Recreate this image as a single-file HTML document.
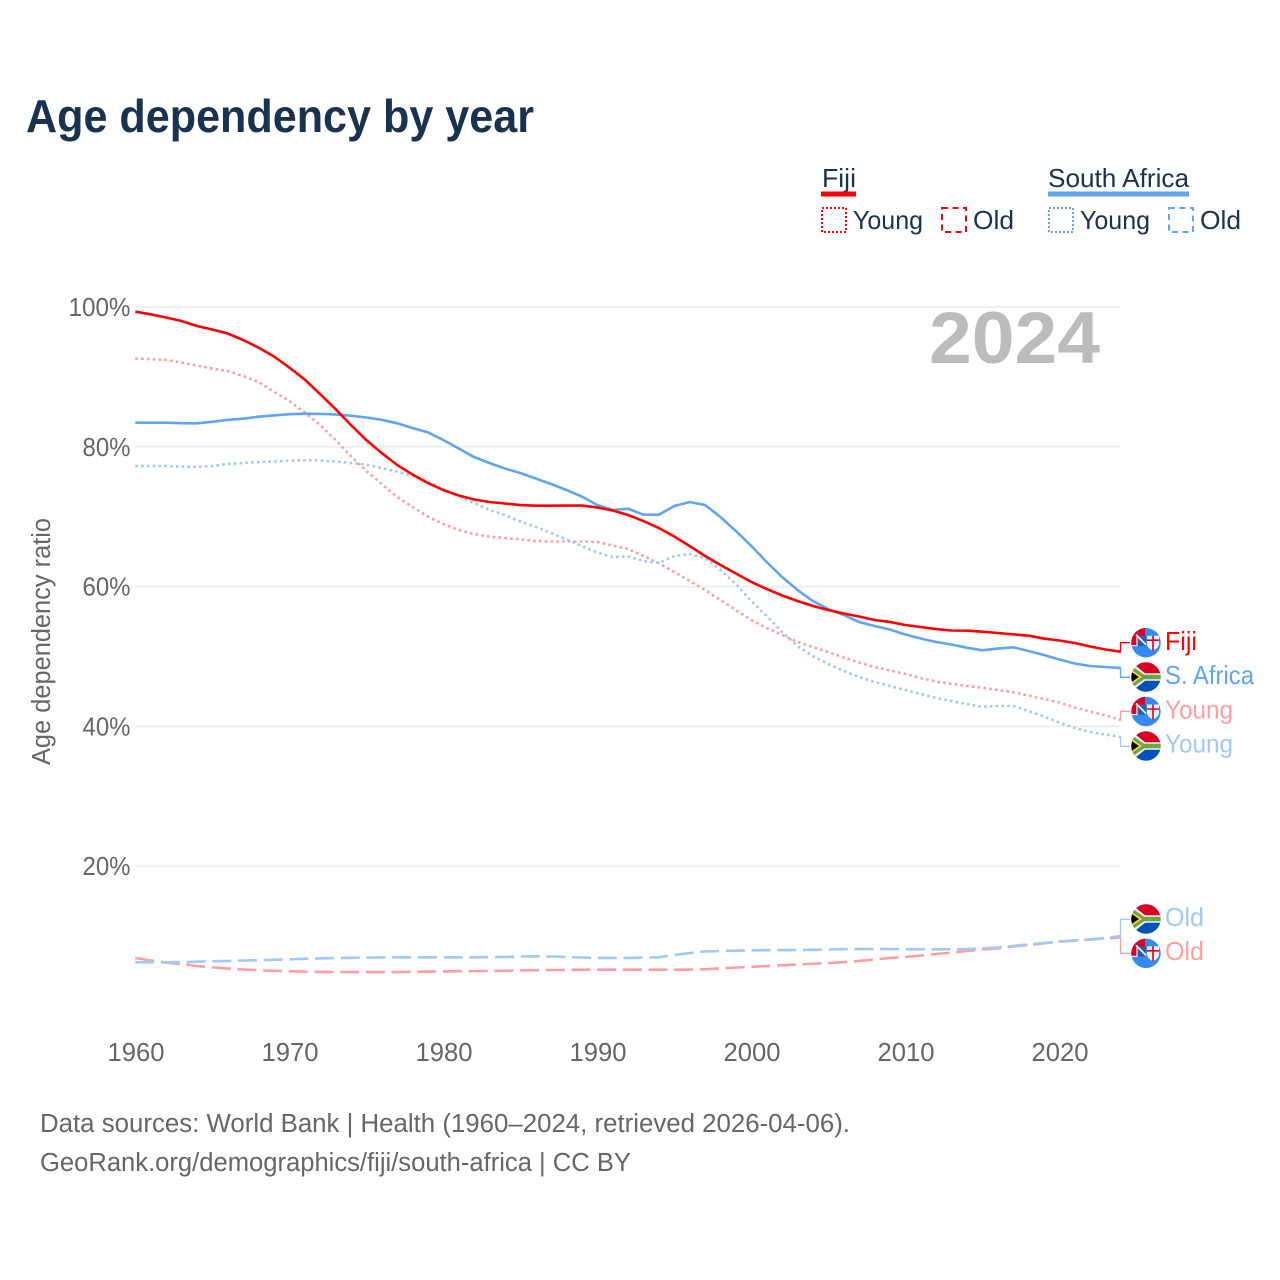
<!DOCTYPE html>
<html lang="en">
<head>
<meta charset="utf-8">
<title>Age dependency by year</title>
<style>
html,body{margin:0;padding:0;background:#fff;}
svg{display:block;}
text{font-family:"Liberation Sans",sans-serif;}
</style>
</head>
<body>
<svg id="chart" xmlns="http://www.w3.org/2000/svg" width="1280" height="1280" viewBox="0 0 1280 1280">
  <defs>
    <clipPath id="flag-clip"><circle cx="0" cy="0" r="14.7"/></clipPath>
    <g id="flag-fiji">
      <g clip-path="url(#flag-clip)">
        <rect x="-15" y="-15" width="30" height="30" fill="#338af3"/>
        <path d="M-15,-15H-1V3H-15Z" fill="#d80027"/>
        <path d="M-9,-7H0V3H-9Z" fill="#2a5ea8"/>
        <path d="M-10,-8L0,2" stroke="#f0f0f0" stroke-width="1.800"/>
        <path d="M-15,3H-9V-8" stroke="#f0f0f0" stroke-width="1.200" fill="none"/>
        <path d="M1,-7H13V1C13,5 9,7 7,8C5,7 1,5 1,1Z" fill="#f0f0f0"/>
        <path d="M7,-7V8M1,-2.500H13" stroke="#d80027" stroke-width="1.600"/>
      </g>
    </g>
    <g id="flag-sa">
      <g clip-path="url(#flag-clip)">
        <rect x="-15" y="-15" width="30" height="15" fill="#d80027"/>
        <rect x="-15" y="0" width="30" height="15" fill="#0052b4"/>
        <path d="M-15,-15L-1,-3.800H15V3.800H-1L-15,15Z" fill="#f0f0f0"/>
        <path d="M-15,-11.500L-2,-2.300H15V2.300H-2L-15,11.500Z" fill="#6da544"/>
        <path d="M-15,-7.500L-4,0L-15,7.500Z" fill="#ffda44"/>
        <path d="M-15,-5.500L-7,0L-15,5.500Z" fill="#000"/>
      </g>
    </g>
  </defs>

  <rect x="0" y="0" width="1280" height="1280" fill="#fff"/>

  <text x="26" y="132" font-size="46" font-weight="700" fill="#18324f" textLength="508" lengthAdjust="spacingAndGlyphs">Age dependency by year</text>

  <g font-size="26" fill="#18324f">
    <text x="822" y="187" textLength="34" lengthAdjust="spacingAndGlyphs">Fiji</text>
    <rect x="821" y="191.500" width="35" height="5" fill="#ff0000"/>
    <rect x="822" y="208" width="24" height="24" fill="none" stroke="#ff0000" stroke-width="2" stroke-dasharray="2 2"/>
    <text x="853" y="229" textLength="70" lengthAdjust="spacingAndGlyphs">Young</text>
    <rect x="942" y="208" width="24" height="24" fill="none" stroke="#ff0000" stroke-width="2" stroke-dasharray="6 4.500"/>
    <text x="973" y="229" textLength="41" lengthAdjust="spacingAndGlyphs">Old</text>
    <text x="1048" y="187" textLength="141" lengthAdjust="spacingAndGlyphs">South Africa</text>
    <rect x="1048" y="191.500" width="141" height="5" fill="#60a5f0"/>
    <rect x="1049" y="208" width="24" height="24" fill="none" stroke="#60a5f0" stroke-width="2" stroke-dasharray="2 2"/>
    <text x="1080" y="229" textLength="70" lengthAdjust="spacingAndGlyphs">Young</text>
    <rect x="1169" y="208" width="24" height="24" fill="none" stroke="#60a5f0" stroke-width="2" stroke-dasharray="6 4.500"/>
    <text x="1200" y="229" textLength="41" lengthAdjust="spacingAndGlyphs">Old</text>
  </g>

  <g id="grid"></g>
  <text x="929" y="363" font-size="73" font-weight="700" fill="#bcbcbc" textLength="171" lengthAdjust="spacingAndGlyphs">2024</text>
  <g id="ticks" font-size="25.500" fill="#666"></g>
  <text transform="translate(50,765) rotate(-90)" x="0" y="0" font-size="25.500" fill="#666" textLength="247" lengthAdjust="spacingAndGlyphs">Age dependency ratio</text>

  <g id="leaders"></g>
  <g id="series"></g>

  <g font-size="26">
    <use href="#flag-fiji" x="1146" y="642.700"/>
    <text x="1165" y="650" fill="#ff0000" textLength="32" lengthAdjust="spacingAndGlyphs">Fiji</text>
    <use href="#flag-sa" x="1146" y="677"/>
    <text x="1165" y="684" fill="#60a5f0" textLength="89" lengthAdjust="spacingAndGlyphs">S. Africa</text>
    <use href="#flag-fiji" x="1146" y="711.500"/>
    <text x="1165" y="718.500" fill="#ff9e9e" textLength="68" lengthAdjust="spacingAndGlyphs">Young</text>
    <use href="#flag-sa" x="1146" y="746"/>
    <text x="1165" y="752.500" fill="#a1c9f5" textLength="68" lengthAdjust="spacingAndGlyphs">Young</text>
    <use href="#flag-sa" x="1146" y="919"/>
    <text x="1165" y="926" fill="#a1c9f5" textLength="39" lengthAdjust="spacingAndGlyphs">Old</text>
    <use href="#flag-fiji" x="1146" y="953.300"/>
    <text x="1165" y="960" fill="#ff9e9e" textLength="39" lengthAdjust="spacingAndGlyphs">Old</text>
  </g>

  <g font-size="25.500" fill="#666">
    <text x="40" y="1132" textLength="810" lengthAdjust="spacingAndGlyphs">Data sources: World Bank | Health (1960–2024, retrieved 2026-04-06).</text>
    <text x="40" y="1171" textLength="591" lengthAdjust="spacingAndGlyphs">GeoRank.org/demographics/fiji/south-africa | CC BY</text>
  </g>
</svg>

<script>
const firstYear = 1960;
const xTickYears = [1960, 1970, 1980, 1990, 2000, 2010, 2020];
const yTickValues = [20, 40, 60, 80, 100];
const yTickLabels = ["20%", "40%", "60%", "80%", "100%"];

const fijiTotal = [
  99.33,98.95,98.50,98.00,97.28,96.78,96.21,95.28,94.20,92.92,
  91.34,89.63,87.55,85.41,83.12,80.97,79.11,77.40,76.04,74.82,
  73.82,73.03,72.46,72.10,71.89,71.67,71.57,71.57,71.60,71.60,
  71.32,70.89,70.24,69.38,68.38,67.17,65.81,64.38,63.09,61.87,
  60.66,59.66,58.73,57.94,57.22,56.65,56.15,55.72,55.22,54.94,
  54.51,54.22,53.93,53.72,53.69,53.55,53.36,53.18,52.98,52.57,
  52.29,51.93,51.43,51.00,50.69];
const southAfricaTotal = [
  83.45,83.45,83.45,83.38,83.36,83.58,83.86,84.02,84.31,84.48,
  84.66,84.74,84.71,84.62,84.45,84.19,83.86,83.36,82.69,82.07,
  80.97,79.76,78.54,77.68,76.89,76.25,75.46,74.68,73.82,72.89,
  71.67,70.96,71.14,70.29,70.29,71.53,72.10,71.67,69.96,67.95,
  65.81,63.52,61.37,59.51,57.94,56.79,55.94,54.94,54.36,53.86,
  53.15,52.57,52.07,51.72,51.26,50.89,51.14,51.32,50.79,50.21,
  49.57,49.00,48.64,48.50,48.35];
const fijiYoung = [
  92.63,92.56,92.42,92.06,91.63,91.20,90.84,90.13,89.27,87.88,
  86.55,84.91,83.12,80.97,78.68,76.54,74.68,72.82,71.39,70.03,
  68.95,68.10,67.52,67.14,66.95,66.74,66.52,66.45,66.45,66.45,
  66.38,65.88,65.38,64.38,63.38,62.09,60.80,59.51,58.08,56.65,
  55.22,54.08,53.08,52.07,51.36,50.64,49.86,49.14,48.50,48.00,
  47.50,46.92,46.42,46.07,45.78,45.54,45.21,44.88,44.42,43.92,
  43.42,42.70,42.13,41.56,40.92];
const southAfricaYoung = [
  77.25,77.25,77.25,77.15,77.14,77.25,77.54,77.68,77.82,77.90,
  78.01,78.08,78.04,77.90,77.68,77.47,76.97,76.44,75.82,75.11,
  73.82,72.96,71.96,70.96,70.24,69.31,68.53,67.67,66.74,65.81,
  64.88,64.23,64.31,63.66,63.38,64.38,64.66,64.09,62.37,60.37,
  57.94,55.79,53.50,51.50,50.07,48.93,47.93,47.07,46.35,45.78,
  45.21,44.64,44.06,43.63,43.20,42.78,42.92,42.92,42.20,41.42,
  40.56,39.77,39.20,38.84,38.48];
const fijiOld = [
  6.87,6.51,6.22,6.01,5.72,5.54,5.36,5.22,5.12,5.04,
  4.98,4.92,4.88,4.86,4.86,4.86,4.86,4.86,4.89,4.92,
  4.95,4.98,4.99,5.01,5.05,5.09,5.12,5.15,5.16,5.19,
  5.19,5.19,5.19,5.19,5.19,5.19,5.19,5.26,5.39,5.51,
  5.61,5.72,5.82,5.94,6.04,6.15,6.29,6.44,6.65,6.87,
  7.01,7.21,7.44,7.64,7.87,8.08,8.23,8.51,8.73,8.97,
  9.23,9.37,9.51,9.66,9.83];
const southAfricaOld = [
  6.25,6.25,6.25,6.29,6.34,6.39,6.44,6.51,6.55,6.61,
  6.68,6.75,6.81,6.87,6.90,6.92,6.95,6.97,6.97,6.97,
  6.97,6.97,6.97,6.98,7.01,7.08,7.11,7.08,7.01,6.94,
  6.87,6.87,6.87,6.92,6.97,7.30,7.58,7.80,7.87,7.91,
  7.97,7.98,8.00,8.01,8.04,8.08,8.13,8.14,8.15,8.15,
  8.13,8.11,8.11,8.13,8.15,8.27,8.37,8.58,8.80,9.01,
  9.20,9.37,9.54,9.73,10.01];

const NS = "http://www.w3.org/2000/svg";
function xScale(year) { return 135.3 + (year - 1960) * 15.4; }
function yScale(value) { return 1006 - value * 6.99; }
function mk(tag, parent) {
  const node = document.createElementNS(NS, tag);
  parent.appendChild(node);
  return node;
}
function linePath(values) {
  return values.map(function (v, i) {
    return (i ? "L" : "M") + xScale(firstYear + i).toFixed(2) + "," + yScale(v).toFixed(2);
  }).join("");
}

const gridG = document.getElementById("grid");
const tickG = document.getElementById("ticks");
const seriesG = document.getElementById("series");
const leaderG = document.getElementById("leaders");

yTickValues.forEach(function (v, i) {
  const gl = mk("line", gridG);
  
  
  gl.setAttribute("x1", xScale(1960));
  gl.setAttribute("x2", xScale(2024));
  gl.setAttribute("y1", yScale(v));
  gl.setAttribute("y2", yScale(v));
  gl.setAttribute("stroke", "#ececec");
  gl.setAttribute("stroke-width", "1.500");
  const t = mk("text", tickG);
  
  
  t.setAttribute("x", 130.5);
  t.setAttribute("y", yScale(v) + 9);
  t.setAttribute("text-anchor", "end");
  t.setAttribute("textLength", yTickLabels[i].length > 3 ? 62 : 48);
  t.setAttribute("lengthAdjust", "spacingAndGlyphs");
  t.textContent = yTickLabels[i];
});

xTickYears.forEach(function (year) {
  const t = mk("text", tickG);
  
  
  t.setAttribute("x", xScale(year) + 0.7);
  t.setAttribute("y", 1061);
  t.setAttribute("text-anchor", "middle");
  t.setAttribute("textLength", 57);
  t.setAttribute("lengthAdjust", "spacingAndGlyphs");
  t.textContent = String(year);
});

function drawLeader(values, labelY, color) {
  const endY = yScale(values[values.length - 1]);
  const p = mk("path", leaderG);
  
  
  p.setAttribute("d", "M1120.5," + endY.toFixed(2) + "V" + labelY + "H1130");
  p.setAttribute("fill", "none");
  p.setAttribute("stroke", color);
  p.setAttribute("stroke-width", "1.300");
}
drawLeader(fijiTotal, 642.7, "#ff0000");
drawLeader(southAfricaTotal, 677.3, "#60a5f0");
drawLeader(fijiYoung, 711.3, "#ff9e9e");
drawLeader(southAfricaYoung, 746.3, "#a1c9f5");
drawLeader(southAfricaOld, 919.3, "#a1c9f5");
drawLeader(fijiOld, 953.3, "#ff9e9e");

function drawSeries(values, color, dash, name) {
  const p = mk("path", seriesG);
  
  
  p.setAttribute("d", linePath(values));
  p.setAttribute("fill", "none");
  p.setAttribute("stroke", color);
  p.setAttribute("stroke-width", "2.600");
  if (dash) p.setAttribute("stroke-dasharray", dash);
}
drawSeries(fijiOld, "#ff9e9e", "19 6.700", "line-fiji-old");
drawSeries(southAfricaOld, "#a1c9f5", "19 6.700", "line-south-africa-old");
drawSeries(fijiYoung, "#ff9e9e", "2.600 3.200", "line-fiji-young");
drawSeries(southAfricaYoung, "#a1c9f5", "2.600 3.200", "line-south-africa-young");
drawSeries(southAfricaTotal, "#60a5f0", null, "line-south-africa-total");
drawSeries(fijiTotal, "#ff0000", null, "line-fiji-total");
</script>
</body>
</html>
